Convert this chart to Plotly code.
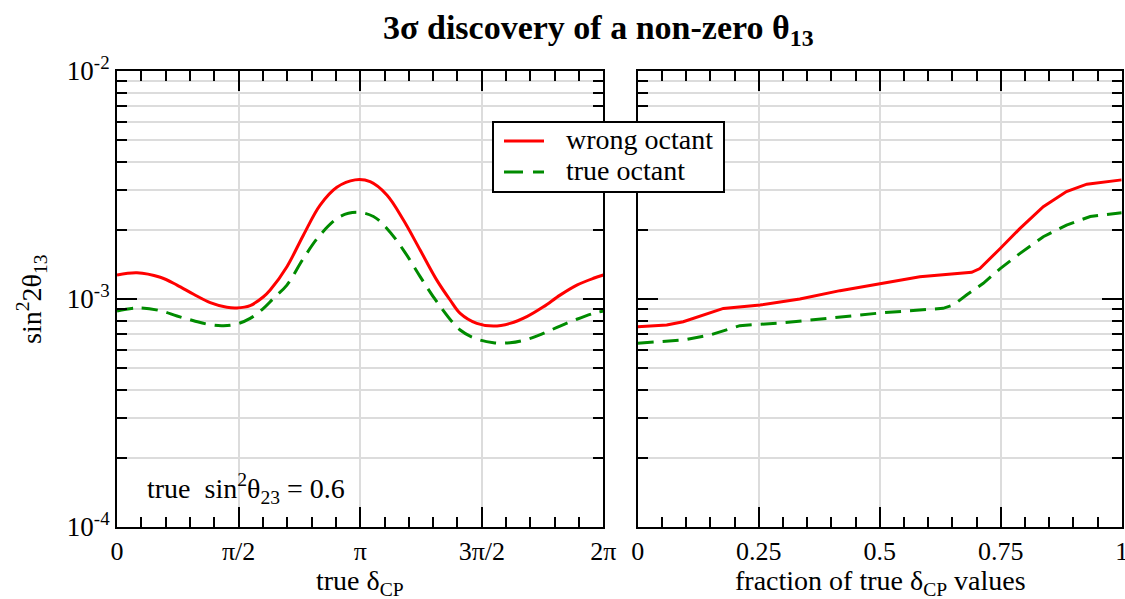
import numpy as np
import plotly.graph_objects as go

PI = np.pi

# ---- data ----
delta_wrong = [0, 0.258, 0.559, 0.775, 0.990, 1.204, 1.419, 1.548, 1.72, 1.892, 1.979, 2.195,
               2.409, 2.624, 2.84, 3.076, 3.27, 3.486, 3.70, 3.916, 4.131, 4.303, 4.433,
               4.648, 4.863, 5.078, 5.294, 5.508, 5.723, 5.94, 6.155, 6.2832]
s13_wrong = [1.274, 1.304, 1.245, 1.151, 1.049, 0.964, 0.920, 0.914, 0.936, 1.023, 1.095, 1.386,
             1.91, 2.58, 3.09, 3.33, 3.27, 2.86, 2.22, 1.64, 1.21, 0.99, 0.865,
             0.782, 0.761, 0.782, 0.837, 0.924, 1.04, 1.151, 1.233, 1.274]

delta_true = [0, 0.258, 0.559, 0.775, 0.99, 1.204, 1.376, 1.548, 1.72, 1.892, 2.022, 2.195,
              2.409, 2.624, 2.883, 3.098, 3.313, 3.486, 3.70, 3.916, 4.131, 4.433,
              4.648, 4.863, 5.078, 5.294, 5.508, 5.723, 5.94, 6.155, 6.2832]
s13_true = [0.886, 0.914, 0.889, 0.842, 0.803, 0.771, 0.764, 0.777, 0.822, 0.910, 1.007, 1.151,
            1.508, 1.91, 2.30, 2.40, 2.30, 2.04, 1.64, 1.253, 0.973, 0.731,
            0.668, 0.643, 0.643, 0.665, 0.707, 0.761, 0.815, 0.865, 0.886]

frac_wrong = [0, 0.06, 0.094, 0.149, 0.177, 0.253, 0.335, 0.418, 0.5, 0.583, 0.69, 0.707,
              0.749, 0.79, 0.838, 0.886, 0.928, 1.0]
fs13_wrong = [0.756, 0.769, 0.795, 0.865, 0.909, 0.941, 1.0, 1.088, 1.164, 1.253, 1.31, 1.36,
              1.666, 2.04, 2.54, 2.96, 3.19, 3.33]

frac_true = [0, 0.094, 0.149, 0.211, 0.301, 0.404, 0.507, 0.631, 0.652, 0.68, 0.714, 0.749,
             0.79, 0.838, 0.886, 0.935, 1.0]
fs13_true = [0.640, 0.661, 0.695, 0.764, 0.787, 0.831, 0.871, 0.910, 0.941, 1.043, 1.172, 1.36,
             1.585, 1.875, 2.11, 2.30, 2.39]

series_names = ["wrong octant", "true octant"]

x1_tickvals = [0, PI / 2, PI, 3 * PI / 2, 2 * PI]
x1_ticktext = ["0", "π/2", "π", "3π/2", "2π"]
x2_tickvals = [0, 0.25, 0.5, 0.75, 1]
x2_ticktext = ["0", "0.25", "0.5", "0.75", "1"]
y_tickvals = [1e-4, 1e-3, 1e-2]
y_ticktext = ["10<sup>-4</sup>", "10<sup>-3</sup>", "10<sup>-2</sup>"]

scale = 1e-3
RED = "#ff0000"
GREEN = "#008b00"
DASH = "16px,9px"
FONT = "Liberation Serif"
GRID = "#dcdcdc"

fig = go.Figure()
fig.add_trace(go.Scatter(x=delta_wrong, y=[v * scale for v in s13_wrong], mode="lines",
                         line=dict(color=RED, width=3, shape="spline", smoothing=1.0),
                         name=series_names[0], showlegend=False, xaxis="x", yaxis="y"))
fig.add_trace(go.Scatter(x=delta_true, y=[v * scale for v in s13_true], mode="lines",
                         line=dict(color=GREEN, width=3, dash=DASH, shape="spline", smoothing=1.0),
                         name=series_names[1], showlegend=False, xaxis="x", yaxis="y"))
fig.add_trace(go.Scatter(x=frac_wrong, y=[v * scale for v in fs13_wrong], mode="lines",
                         line=dict(color=RED, width=3), name=series_names[0], showlegend=False,
                         xaxis="x2", yaxis="y2"))
fig.add_trace(go.Scatter(x=frac_true, y=[v * scale for v in fs13_true], mode="lines",
                         line=dict(color=GREEN, width=3, dash=DASH), name=series_names[1],
                         showlegend=False, xaxis="x2", yaxis="y2"))

W, H = 1125, 599
ydom = [1 - 527 / H, 1 - 71 / H]


def px(x):
    return x / W


def py(y):
    return 1 - y / H


common_x = dict(showline=True, linecolor="black", linewidth=2, mirror="allticks",
                ticks="inside", ticklen=20, tickwidth=2, tickcolor="black",
                showgrid=True, gridcolor=GRID, gridwidth=2, zeroline=False, automargin=False,
                ticklabeloverflow="allow",
                tickfont=dict(family=FONT, size=26, color="black"), tickmode="array")
common_y = dict(type="log", range=[-4, -2], showline=True, linecolor="black", linewidth=2,
                mirror="allticks", ticks="inside", ticklen=20, tickwidth=2, tickcolor="black",
                showgrid=True, gridcolor=GRID, gridwidth=2, zeroline=False, automargin=False,
                ticklabeloverflow="allow",
                tickmode="array", tickvals=y_tickvals,
                minor=dict(tickmode="array",
                           tickvals=[k * 10.0 ** e for e in (-4, -3) for k in range(2, 10)],
                           ticks="inside", ticklen=10, tickwidth=2, tickcolor="black",
                           showgrid=True, gridcolor=GRID, gridwidth=2),
                tickfont=dict(family=FONT, size=27, color="black"))

x1_minor = [k * PI / 10 for k in range(1, 20) if k % 5 != 0]
x2_minor = [k * 0.05 for k in range(1, 20) if k % 5 != 0]

fig.update_layout(
    width=W, height=H, margin=dict(l=0, r=0, t=0, b=0, autoexpand=False),
    plot_bgcolor="white", paper_bgcolor="white",
    xaxis=dict(common_x, domain=[px(117), px(603.4)], range=[0, 2 * PI], anchor="y",
               tickvals=x1_tickvals, ticktext=x1_ticktext,
               minor=dict(tickmode="array", tickvals=x1_minor, ticks="inside", ticklen=10,
                          tickwidth=2, tickcolor="black", showgrid=False)),
    xaxis2=dict(common_x, domain=[px(637.7), px(1121.7)], range=[0, 1], anchor="y2",
                tickvals=x2_tickvals, ticktext=x2_ticktext,
                minor=dict(tickmode="array", tickvals=x2_minor, ticks="inside", ticklen=10,
                           tickwidth=2, tickcolor="black", showgrid=False)),
    yaxis=dict(common_y, domain=ydom, anchor="x", ticktext=y_ticktext),
    yaxis2=dict(common_y, domain=ydom, anchor="x2", matches="y", showticklabels=False),
    showlegend=False,
    font=dict(family=FONT, color="black"),
)

# legend box drawn in paper coordinates
shapes = [
    dict(type="rect", xref="paper", yref="paper", x0=px(493), x1=px(724), y0=py(192), y1=py(122),
         line=dict(color="black", width=2), fillcolor="white", layer="above"),
    dict(type="line", xref="paper", yref="paper", x0=px(504), x1=px(544), y0=py(141), y1=py(141),
         line=dict(color=RED, width=3), layer="above"),
    dict(type="line", xref="paper", yref="paper", x0=px(504), x1=px(544), y0=py(172), y1=py(172),
         line=dict(color=GREEN, width=3, dash="19px,10px"), layer="above"),
]

annotations = [
    dict(text=series_names[0], x=px(564), y=py(140), xref="paper", yref="paper",
         xanchor="left", yanchor="middle", showarrow=False,
         font=dict(family=FONT, size=28, color="black")),
    dict(text=series_names[1], x=px(564), y=py(171), xref="paper", yref="paper",
         xanchor="left", yanchor="middle", showarrow=False,
         font=dict(family=FONT, size=28, color="black")),
    dict(text="<b>3σ discovery of a non-zero θ<sub>13</sub></b>", x=px(598), y=py(30),
         xref="paper", yref="paper", xanchor="center", yanchor="middle", showarrow=False,
         font=dict(family=FONT, size=34, color="black")),
    dict(text="true δ<sub>CP</sub>", x=px(360), y=py(582), xref="paper", yref="paper",
         xanchor="center", yanchor="middle", showarrow=False,
         font=dict(family=FONT, size=28, color="black")),
    dict(text="fraction of true δ<sub>CP</sub> values", x=px(880), y=py(582),
         xref="paper", yref="paper", xanchor="center", yanchor="middle", showarrow=False,
         font=dict(family=FONT, size=28, color="black")),
    dict(text="sin<sup>2</sup>2θ<sub>13</sub>", x=px(31), y=py(299), xref="paper",
         yref="paper", xanchor="center", yanchor="middle", textangle=-90, showarrow=False,
         font=dict(family=FONT, size=28, color="black")),
    dict(text="true\u00a0\u00a0sin<sup>2</sup>θ<sub>23</sub> = 0.6", x=px(145), y=py(488),
         xref="paper", yref="paper", xanchor="left", yanchor="middle", showarrow=False,
         font=dict(family=FONT, size=28, color="black")),
]
fig.update_layout(shapes=shapes, annotations=annotations)

fig.write_html("out.html", config={"displayModeBar": False},
               post_script="document.body.style.margin='0';")
